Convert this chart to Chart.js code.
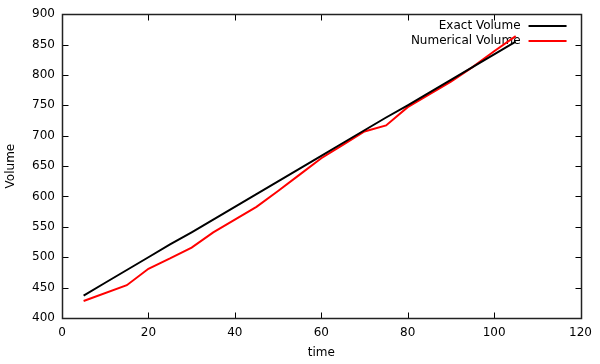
<!DOCTYPE html>
<html>
<head>
<meta charset="utf-8">
<script src="https://cdn.jsdelivr.net/npm/chart.js@4/dist/chart.umd.min.js"></script>
<style>
  html, body { margin: 0; padding: 0; background: #fff; }
  canvas { display: block; }
</style>
</head>
<body>
<canvas id="volumeChart" width="600" height="364"></canvas>
<script>
// exact solution, sampled every 5 time units
var exactTime = [5, 10, 15, 20, 25, 30, 35, 40, 45, 50, 55, 60, 65, 70, 75, 80, 85, 90, 95, 100, 105];
var exactVolume = [437, 458, 479, 500, 521, 541, 562, 583, 604, 625, 646, 667, 688, 709, 730, 750, 771, 792, 813, 834, 855];

// numerical solution
var numTime = [5, 15, 20, 25, 30, 35, 40, 45, 50, 55, 60, 65, 70, 75, 80, 85, 90, 95, 100, 105];
var numVolume = [428, 454, 481, 498, 516, 541, 562, 583, 609, 636, 663, 685, 707, 717, 747, 768, 789, 813, 839, 864];

var xTicks = [0, 20, 40, 60, 80, 100, 120];
var yTicks = [400, 450, 500, 550, 600, 650, 700, 750, 800, 850, 900];

var FONT = "'DejaVu Sans', sans-serif";

function toPoints(xs, ys) {
    var pts = [];
    for (var i = 0; i < xs.length; i++) pts.push({x: xs[i], y: ys[i]});
    return pts;
}

// gnuplot look: box border, inward ticks on all four sides, key in the top right
var gnuplotFrame = {
    id: "gnuplotFrame",
    beforeDatasetsDraw: function(chart) {
        var ctx = chart.ctx;
        var area = chart.chartArea;
        ctx.save();
        ctx.font = "12px " + FONT;
        ctx.textAlign = "right";
        ctx.textBaseline = "middle";
        chart.data.datasets.forEach(function(ds, i) {
            var y = 26 + i * 15;
            ctx.fillStyle = "#000";
            ctx.fillText(ds.label, area.right - 60, y);
            ctx.strokeStyle = ds.borderColor;
            ctx.lineWidth = 2;
            ctx.beginPath();
            ctx.moveTo(area.right - 52, y);
            ctx.lineTo(area.right - 14, y);
            ctx.stroke();
        });
        ctx.restore();
    },
    afterDatasetsDraw: function(chart) {
        var ctx = chart.ctx;
        var a = chart.chartArea;
        var xs = chart.scales.x, ys = chart.scales.y;
        var L = Math.round(a.left) + 0.5, R = Math.round(a.right) + 0.5;
        var T = Math.round(a.top) + 0.5, B = Math.round(a.bottom) + 0.5;
        var tick = 6;
        ctx.save();
        ctx.strokeStyle = "#000";
        ctx.lineWidth = 1;
        ctx.beginPath();
        xTicks.forEach(function(v) {
            var px = Math.round(xs.getPixelForValue(v)) + 0.5;
            ctx.moveTo(px, B); ctx.lineTo(px, B - tick);
            ctx.moveTo(px, T); ctx.lineTo(px, T + tick);
        });
        yTicks.forEach(function(v) {
            var py = Math.round(ys.getPixelForValue(v)) + 0.5;
            ctx.moveTo(L, py); ctx.lineTo(L + tick, py);
            ctx.moveTo(R, py); ctx.lineTo(R - tick, py);
        });
        ctx.stroke();
        ctx.strokeStyle = "#222";
        ctx.lineWidth = 1.5;
        ctx.strokeRect(L, T, R - L, B - T);
        ctx.restore();
    }
};

var volumeChart = new Chart(document.getElementById("volumeChart"), {
    type: "line",
    data: {
        datasets: [{
            label: "Exact Volume",
            data: toPoints(exactTime, exactVolume),
            borderColor: "#000000",
            borderWidth: 2,
            pointRadius: 0,
            tension: 0,
            fill: false
        }, {
            label: "Numerical Volume",
            data: toPoints(numTime, numVolume),
            borderColor: "#ff0000",
            borderWidth: 2,
            pointRadius: 0,
            tension: 0,
            fill: false
        }]
    },
    options: {
        responsive: false,
        devicePixelRatio: 1,
        animation: false,
        layout: { padding: { left: 0, top: 14, right: 17, bottom: 0 } },
        plugins: {
            legend: { display: false },
            tooltip: { enabled: false }
        },
        scales: {
            x: {
                type: "linear",
                min: 0,
                max: 120,
                afterFit: function(scale) { scale.height = 46; },
                afterBuildTicks: function(scale) {
                    scale.ticks = xTicks.map(function(v) { return {value: v}; });
                },
                grid: { display: false, drawTicks: false },
                border: { display: false },
                ticks: {
                    color: "#000",
                    padding: 8,
                    maxRotation: 0,
                    font: { family: FONT, size: 12 }
                },
                title: {
                    display: true,
                    text: "time",
                    color: "#000",
                    padding: { top: 0, bottom: 4 },
                    font: { family: FONT, size: 12 }
                }
            },
            y: {
                type: "linear",
                min: 400,
                max: 900,
                afterFit: function(scale) { scale.width = 62; },
                afterBuildTicks: function(scale) {
                    scale.ticks = yTicks.map(function(v) { return {value: v}; });
                },
                grid: { display: false, drawTicks: false },
                border: { display: false },
                ticks: {
                    color: "#000",
                    padding: 7,
                    font: { family: FONT, size: 12 }
                },
                title: {
                    display: true,
                    text: "Volume",
                    color: "#000",
                    padding: { top: 4, bottom: 0 },
                    font: { family: FONT, size: 12 }
                }
            }
        }
    },
    plugins: [gnuplotFrame]
});
</script>
</body>
</html>
